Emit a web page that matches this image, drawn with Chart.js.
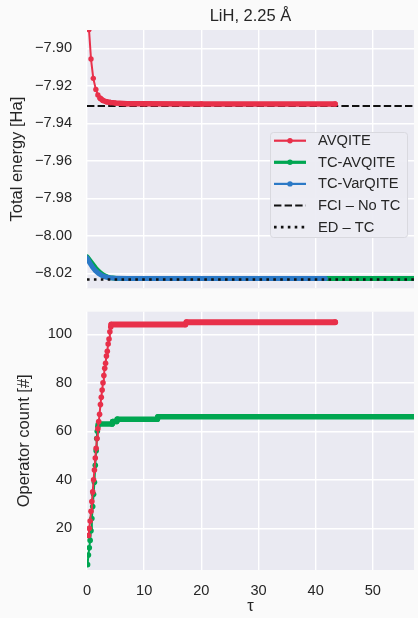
<!DOCTYPE html>
<html>
<head>
<meta charset="utf-8">
<script src="https://cdn.jsdelivr.net/npm/chart.js@4.4.0/dist/chart.umd.min.js"></script>
<style>
    html, body { margin: 0; padding: 0; background: #fafafa; }
    canvas { position: absolute; left: 0; }
    #energy-chart { top: 0; }
    #count-chart { top: 300px; }
</style>
</head>
<body>
<canvas id="energy-chart" width="418" height="300"></canvas>
<canvas id="count-chart" width="418" height="318"></canvas>
<script>
// --- DATA ---
const xTicks = [0, 10, 20, 30, 40, 50];
const energyTicks = [-7.90, -7.92, -7.94, -7.96, -7.98, -8.00, -8.02];
const countTicks = [20, 40, 60, 80, 100];

const avqiteTau    = [0, 0.35, 0.7, 1.1, 1.55, 1.9, 2.3, 2.8, 3.4, 4.1, 5, 7, 10, 20, 43.4];
const avqiteEnergy = [-7.872, -7.890, -7.9057, -7.916, -7.9219, -7.9249, -7.9266, -7.9278, -7.9285, -7.9289, -7.9292, -7.9295, -7.9296, -7.9297, -7.9297];

const tcAvqiteTau    = [0, 0.5, 1, 1.5, 2, 2.5, 3, 3.5, 4, 5, 7, 60];
const tcAvqiteEnergy = [-8.0112, -8.0132, -8.0152, -8.0172, -8.0189, -8.0202, -8.0212, -8.0219, -8.0223, -8.0226, -8.0228, -8.0228];

const tcVarTau    = [0, 0.5, 1, 1.5, 2, 2.5, 3, 3.5, 4, 5, 7, 41.7];
const tcVarEnergy = [-8.0118, -8.0145, -8.0169, -8.0187, -8.0200, -8.0210, -8.0217, -8.0221, -8.0224, -8.0227, -8.0228, -8.0228];

const fciNoTc = -7.9308;
const edTc = -8.0233;

const avqiteOpsTau = [0.28, 0.4, 0.55, 0.7, 0.85, 1.0, 1.15, 1.3, 1.45, 1.6, 1.75, 1.9, 2.05, 2.2, 2.35, 2.5, 2.65, 2.8, 2.95, 3.1, 3.25, 3.4, 3.55, 3.7, 3.85, 4.0, 4.15, 4.25, 17.2, 17.4, 43.4];
const avqiteOps    = [17, 20, 23, 27, 31, 35, 40, 44, 49, 53, 57, 61, 64, 67, 71, 74, 77, 80, 83, 86, 88, 91, 93, 96, 98, 101, 103, 104, 104, 105, 105];

const tcAvqiteOpsTau = [0.1, 0.25, 0.4, 0.55, 0.7, 0.85, 1.0, 1.15, 1.3, 1.45, 1.6, 1.7, 1.8, 1.9, 2.0, 4.4, 4.5, 5.2, 5.3, 12.3, 12.4, 60];
const tcAvqiteOps    = [5, 9, 12, 15, 19, 24, 29, 34, 39, 46, 52, 57, 60, 62, 63, 63, 64, 64, 65, 65, 66, 66];

// --- STYLE ---
const RED = '#e8304a', GREEN = '#00a651', BLUE = '#2b79c6', INK = '#262626';
const FONT = 'Liberation Sans, Arial, sans-serif';
const X_MAX = 57.2;

const pts = (xs, ys) => xs.map((x, i) => ({ x: x, y: ys[i] }));
const hline = v => [{ x: 0, y: v }, { x: 60, y: v }];
const fixedTicks = list => scale => { scale.ticks = list.map(v => ({ value: v })); };
// fixed axis box size, and no extra room reserved for edge labels
const fixSize = (w, h) => s => {
    if (w !== null) s.width = w;
    if (h !== null) s.height = h;
    s.paddingTop = s.paddingBottom = s.paddingLeft = s.paddingRight = 0;
};
// flat stretches are drawn as a thick band (the dense markers merge there)
const flatThick = (thin, thick) => ({
    borderWidth: c => Math.abs(c.p1.y - c.p0.y) < Math.abs(c.p1.x - c.p0.x) ? thick : thin
});

const plotBg = {
    id: 'plotBg',
    beforeDraw(chart) {
        const { ctx, chartArea: a } = chart;
        ctx.save();
        ctx.fillStyle = '#eaeaf2';
        ctx.fillRect(a.left, a.top, a.width, a.height);
        ctx.restore();
    }
};

const titleAndLegend = {
    id: 'titleAndLegend',
    afterDraw(chart) {
        const { ctx, chartArea: a } = chart;
        ctx.save();
        ctx.fillStyle = INK;
        ctx.font = '16.5px ' + FONT;
        ctx.textAlign = 'center';
        ctx.textBaseline = 'alphabetic';
        ctx.fillText('LiH, 2.25 Å', (a.left + a.right) / 2, 20.7);

        // legend box
        ctx.beginPath();
        ctx.roundRect(270.5, 132.5, 137, 105, 3);
        ctx.fillStyle = 'rgba(236,236,243,0.92)';
        ctx.fill();
        ctx.strokeStyle = '#d9d9df';
        ctx.lineWidth = 1;
        ctx.stroke();

        const items = [
            { label: 'AVQITE', color: RED, width: 2.2, dash: [], dot: true },
            { label: 'TC-AVQITE', color: GREEN, width: 3.2, dash: [], dot: true },
            { label: 'TC-VarQITE', color: BLUE, width: 2.2, dash: [], dot: true },
            { label: 'FCI – No TC', color: '#111', width: 2, dash: [7.4, 3.2], dot: false },
            { label: 'ED – TC', color: '#111', width: 2.6, dash: [2.6, 4.3], dot: false }
        ];
        ctx.font = '14.7px ' + FONT;
        ctx.textAlign = 'left';
        ctx.textBaseline = 'middle';
        items.forEach((it, i) => {
            const y = 140.7 + i * 21.6;
            ctx.beginPath();
            ctx.setLineDash(it.dash);
            ctx.lineCap = 'butt';
            ctx.strokeStyle = it.color;
            ctx.lineWidth = it.width;
            ctx.moveTo(274, y);
            ctx.lineTo(306, y);
            ctx.stroke();
            ctx.setLineDash([]);
            if (it.dot) {
                ctx.beginPath();
                ctx.arc(290, y, 2.7, 0, Math.PI * 2);
                ctx.fillStyle = it.color;
                ctx.fill();
            }
            ctx.fillStyle = INK;
            ctx.fillText(it.label, 318, y + 0.5);
        });
        ctx.restore();
    }
};

const gridStyle = { color: '#ffffff', lineWidth: 1.4, drawTicks: false };
const tickFont = { family: FONT, size: 14.6 };
const labelFont = { family: FONT, size: 16.5 };

function lineSet(data, color, extra) {
    return Object.assign({
        data: data,
        borderColor: color,
        backgroundColor: color,
        pointBackgroundColor: color,
        pointBorderWidth: 0,
        pointRadius: 0,
        borderCapStyle: 'round',
        borderJoinStyle: 'round',
        clip: 0,
        tension: 0
    }, extra);
}

// --- TOP: TOTAL ENERGY ---
new Chart(document.getElementById('energy-chart'), {
    type: 'line',
    data: {
        datasets: [
            lineSet(hline(edTc), '#111', { borderWidth: 2.6, borderDash: [2.6, 4.3], borderCapStyle: 'butt', order: 0 }),
            lineSet(hline(fciNoTc), '#111', { borderWidth: 2, borderDash: [7.4, 3.2], borderCapStyle: 'butt', order: 2 }),
            lineSet(pts(avqiteTau, avqiteEnergy), RED, { pointRadius: 2.7, borderWidth: 2, segment: flatThick(2, 5.5), order: 1 }),
            lineSet(pts(tcVarTau, tcVarEnergy), BLUE, { borderWidth: 5, order: 3 }),
            lineSet(pts(tcAvqiteTau, tcAvqiteEnergy), GREEN, { borderWidth: 5, order: 4 })
        ]
    },
    options: {
        responsive: false,
        animation: false,
        events: [],
        layout: { padding: { top: 30, bottom: 11.7, left: 0, right: 4 } },
        plugins: { legend: { display: false }, tooltip: { enabled: false } },
        scales: {
            x: {
                type: 'linear', min: 0, max: X_MAX,
                afterBuildTicks: fixedTicks(xTicks),
                ticks: { display: false },
                grid: gridStyle,
                border: { display: false },
                afterFit: fixSize(null, 0)
            },
            y: {
                type: 'linear', min: -8.028, max: -7.8902,
                afterBuildTicks: fixedTicks(energyTicks),
                ticks: {
                    padding: 15, color: INK, font: tickFont,
                    callback: v => (v < 0 ? '−' : '') + Math.abs(v).toFixed(2)
                },
                grid: gridStyle,
                border: { display: false },
                title: { display: true, text: 'Total energy [Ha]', color: INK, font: labelFont, padding: { top: 8, bottom: 0 } },
                afterFit: fixSize(87, null)
            }
        }
    },
    plugins: [plotBg, titleAndLegend]
});

// --- BOTTOM: OPERATOR COUNT ---
new Chart(document.getElementById('count-chart'), {
    type: 'line',
    data: {
        datasets: [
            lineSet(pts(avqiteOpsTau, avqiteOps), RED, { pointRadius: 2.8, borderWidth: 2, segment: flatThick(2, 6) }),
            lineSet(pts(tcAvqiteOpsTau, tcAvqiteOps), GREEN, { pointRadius: 2.8, borderWidth: 2, segment: flatThick(2, 5.5) })
        ]
    },
    options: {
        responsive: false,
        animation: false,
        events: [],
        layout: { padding: { top: 11.7, bottom: 0, left: 0, right: 4 } },
        plugins: { legend: { display: false }, tooltip: { enabled: false } },
        scales: {
            x: {
                type: 'linear', min: 0, max: X_MAX,
                afterBuildTicks: fixedTicks(xTicks),
                ticks: { padding: 12.3, color: INK, font: tickFont, maxRotation: 0 },
                grid: gridStyle,
                border: { display: false },
                title: { display: true, text: 'τ', color: INK, font: labelFont, padding: { top: 0, bottom: 2 } },
                afterFit: fixSize(null, 48)
            },
            y: {
                type: 'linear', min: 2.8, max: 109.3,
                afterBuildTicks: fixedTicks(countTicks),
                ticks: { padding: 15, color: INK, font: tickFont },
                grid: gridStyle,
                border: { display: false },
                title: { display: true, text: 'Operator count [#]', color: INK, font: labelFont, padding: { top: 15, bottom: 0 } },
                afterFit: fixSize(87, null)
            }
        }
    },
    plugins: [plotBg]
});
</script>
</body>
</html>
